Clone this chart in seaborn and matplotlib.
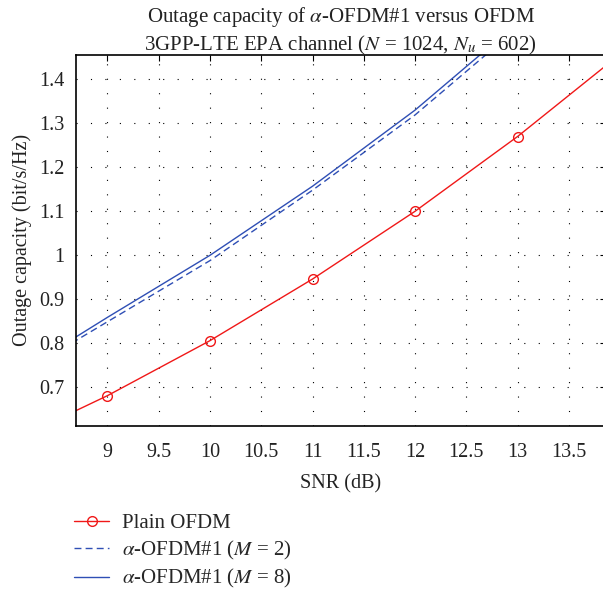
import numpy as np
import pandas as pd
import matplotlib
matplotlib.use("Agg")
import matplotlib.pyplot as plt
from matplotlib.lines import Line2D
import seaborn as sns

# SNR grid (dB) and outage capacity (bit/s/Hz) for each scheme
snr = [8, 9, 10, 11, 12, 13, 14]
plain_ofdm = [0.570, 0.681, 0.806, 0.946, 1.100, 1.270, 1.457]
alpha_m2 = [0.710, 0.849, 0.988, 1.148, 1.319, 1.517, 1.720]
alpha_m8 = [0.714, 0.859, 1.000, 1.157, 1.330, 1.528, 1.730]

series_names = ["Plain OFDM",
                r"$\alpha$-OFDM#1 ($M$ = 2)",
                r"$\alpha$-OFDM#1 ($M$ = 8)"]

x_ticks = [9, 9.5, 10, 10.5, 11, 11.5, 12, 12.5, 13, 13.5]
x_tick_labels = ["9", "9.5", "10", "10.5", "11", "11.5", "12", "12.5", "13", "13.5"]
y_ticks = [0.7, 0.8, 0.9, 1.0, 1.1, 1.2, 1.3, 1.4]
y_tick_labels = ["0.7", "0.8", "0.9", "1", "1.1", "1.2", "1.3", "1.4"]

sns.set_style("white")
plt.rcParams["font.family"] = ["Liberation Serif", "DejaVu Serif"]
plt.rcParams["mathtext.fontset"] = "stix"
plt.rcParams["font.size"] = 14

red = "#f01818"
blue = "#2f4fb5"
text_col = "#222222"
dash_pat = (0, (5, 3))

fig = plt.figure(figsize=(6.03, 5.92), dpi=100)
ax = fig.add_axes([0.1255, 0.2804, 0.879, 0.6272])

sns.lineplot(x=snr, y=plain_ofdm, color=red, linewidth=1.0, marker="o",
             markersize=7, markerfacecolor="none", markeredgecolor=red,
             markeredgewidth=1.0, ax=ax)
sns.lineplot(x=snr, y=alpha_m2, color=blue, linewidth=1.0, ax=ax)
ax.lines[-1].set_linestyle(dash_pat)
sns.lineplot(x=snr, y=alpha_m8, color=blue, linewidth=1.0, ax=ax)

ax.set_xlim(8.69, 13.86)
ax.set_ylim(0.612, 1.456)
ax.set_xticks(x_ticks)
ax.set_xticklabels(x_tick_labels)
ax.set_yticks(y_ticks)
ax.set_yticklabels(y_tick_labels)

ax.grid(True, color="black", linestyle=(0, (1, 12)), linewidth=0.8)
ax.tick_params(direction="in", length=4, width=0.8, colors="black",
               labelsize=14.5, top=True, right=True, pad=12)
ax.tick_params(axis="x", labelcolor=text_col)
ax.tick_params(axis="y", pad=8, labelcolor=text_col)
for side in ["left", "bottom", "top", "right"]:
    ax.spines[side].set_color("black")
    ax.spines[side].set_linewidth(1.2)

ax.set_xlabel("SNR (dB)", fontsize=14.5, labelpad=9, color=text_col)
ax.set_ylabel("Outage capacity (bit/s/Hz)", fontsize=14.5, labelpad=5, color=text_col)
ax.set_title("Outage capacity of $\\alpha$-OFDM#1 versus OFDM\n"
             "3GPP-LTE EPA channel ($N$ = 1024, $N_u$ = 602)",
             fontsize=15, color=text_col, pad=3, linespacing=1.3)

handles = [
    Line2D([], [], color=red, linewidth=1.0, marker="o", markersize=7,
           markerfacecolor="none", markeredgecolor=red),
    Line2D([], [], color=blue, linewidth=1.0, linestyle=dash_pat),
    Line2D([], [], color=blue, linewidth=1.0),
]
fig.legend(handles, series_names, loc="upper left",
           bbox_to_anchor=(0.1227, 0.132), frameon=False, fontsize=15,
           handlelength=1.7, handletextpad=0.6, labelspacing=0.26,
           borderpad=0, borderaxespad=0)

fig.savefig("out.png", dpi=100)
